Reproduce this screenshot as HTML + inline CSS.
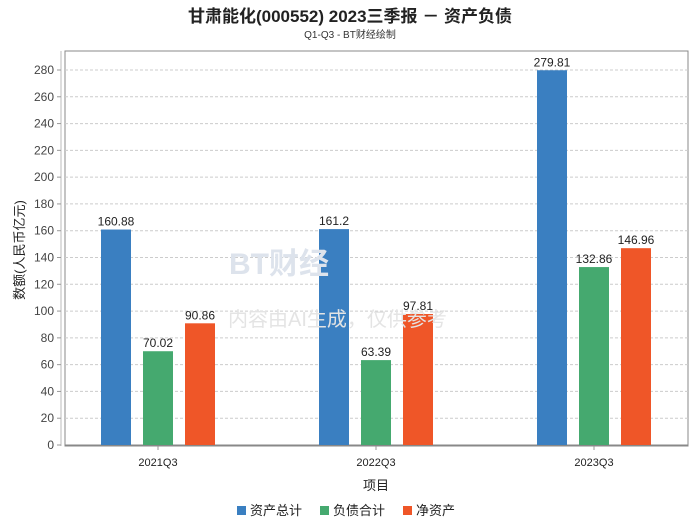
<!DOCTYPE html>
<html><head><meta charset="utf-8"><style>
body{margin:0;background:#fff;font-family:"Liberation Sans","Noto Sans CJK SC",sans-serif}
</style></head><body>
<svg width="700" height="524" xmlns="http://www.w3.org/2000/svg" font-family="Liberation Sans, Noto Sans CJK SC, sans-serif" id="chart">
<text x="350" y="22" text-anchor="middle" font-size="17" font-weight="bold" fill="#222">甘肃能化(000552) 2023三季报 － 资产负债</text>
<text x="350" y="38" text-anchor="middle" font-size="10" fill="#333">Q1-Q3 - BT财经绘制</text>
<rect x="65" y="51" width="623" height="395" fill="none" stroke="#888"/>
<line x1="61" y1="51" x2="61" y2="446" stroke="#bbb"/>
<g id="grid"></g><g id="bars"></g>
<text x="229" y="274" font-size="30" font-weight="bold" fill="#dde3ec">BT财经</text>
<text x="228" y="326" font-size="20" fill="#e4e4e4">内容由AI生成，仅供参考</text>
<text transform="translate(24,250) rotate(-90)" text-anchor="middle" font-size="13" fill="#222">数额(人民币亿元)</text>
<text x="376" y="490" text-anchor="middle" font-size="13" fill="#222">项目</text>
<g font-size="13" fill="#222">
<rect x="237" y="506" width="9" height="9" fill="#3a7fc1"/><text x="250" y="515">资产总计</text>
<rect x="320" y="506" width="9" height="9" fill="#45a96f"/><text x="333" y="515">负债合计</text>
<rect x="403" y="506" width="9" height="9" fill="#ef5628"/><text x="416" y="515">净资产</text>
</g>
</svg>
<script>
const categories=["2021Q3","2022Q3","2023Q3"];
const assets=[160.88,161.2,279.81];
const liabilities=[70.02,63.39,132.86];
const equity=[90.86,97.81,146.96];
const yTicks=[0,20,40,60,80,100,120,140,160,180,200,220,240,260,280];
const NS="http://www.w3.org/2000/svg";
const y=v=>445-v*(375/280);
const xc=i=>158+i*218;
const grid=document.getElementById('grid'),bars=document.getElementById('bars');
function mk(tag,a,p){const e=document.createElementNS(NS,tag);for(const k in a)e.setAttribute(k,a[k]);p.appendChild(e);return e;}
yTicks.forEach(t=>{
 const l=mk('line',{x1:65,x2:688,y1:y(t),y2:y(t),stroke:t===0?'#888':'#ccc','stroke-dasharray':t===0?'':'3,2'},grid);
 
 
 mk('line',{x1:57,x2:61,y1:y(t),y2:y(t),stroke:'#999'},grid);
 const tx=mk('text',{x:54,y:y(t)+4,'text-anchor':'end','font-size':12,fill:'#444'},grid);tx.textContent=t;
 
 
});
const series=[[assets,'#3a7fc1','assets'],[liabilities,'#45a96f','liabilities'],[equity,'#ef5628','equity']];
categories.forEach((c,i)=>{
 const lb=mk('text',{x:xc(i),y:466,'text-anchor':'middle','font-size':11,fill:'#222'},bars);lb.textContent=c;
 
 
 mk('line',{x1:xc(i),x2:xc(i),y1:446,y2:450,stroke:'#999'},bars);
 series.forEach(([d,col,n],j)=>{
  const cx=xc(i)+(j-1)*42;
  const r=mk('rect',{x:cx-15,y:y(d[i]),width:30,height:445-y(d[i]),fill:col},bars);
  
  
  const t=mk('text',{x:cx,y:y(d[i])-4,'text-anchor':'middle','font-size':12,fill:'#222'},bars);t.textContent=d[i];
  
  
 });
});
</script>
</body></html>
